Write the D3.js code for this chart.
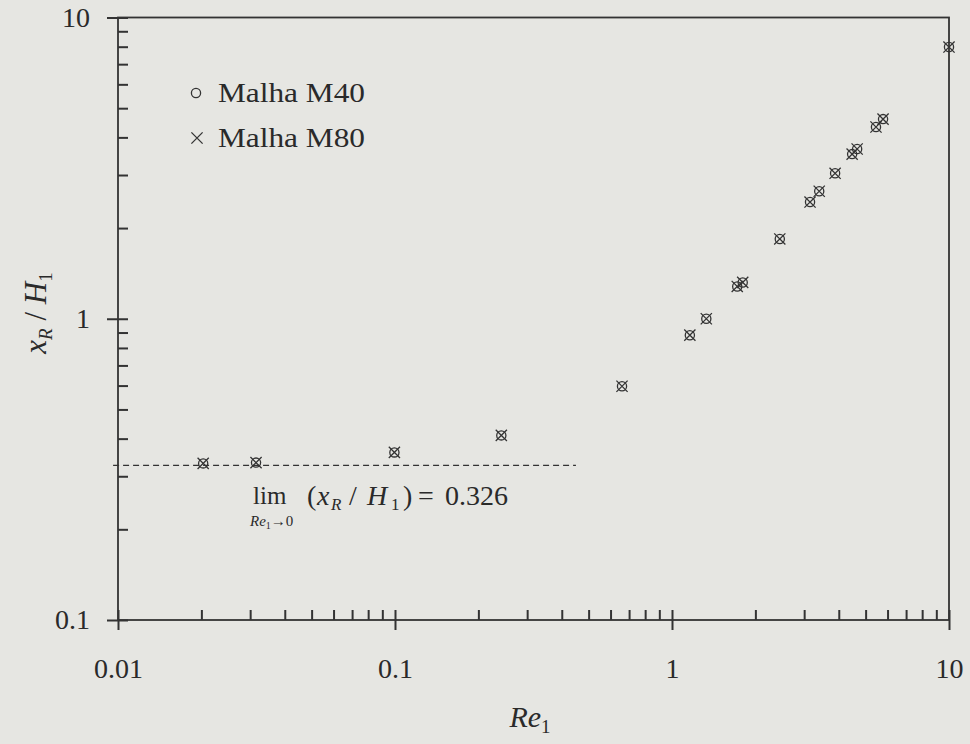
<!DOCTYPE html>
<html>
<head>
<meta charset="utf-8">
<script src="https://cdn.jsdelivr.net/npm/d3@7"></script>
<style>
  html, body { margin: 0; padding: 0; background: #e6e6e2; }
  svg { display: block; }
</style>
</head>
<body>
<svg id="chart" width="970" height="744"></svg>
<script>
// Reattachment length x_R/H_1 against Reynolds number Re_1, two meshes
const reM40 = [0.0203, 0.0315, 0.0995, 0.242, 0.66, 1.16, 1.33, 1.72, 1.80, 2.45, 3.15, 3.40, 3.88, 4.47, 4.66, 5.45, 5.78, 10.0];
const xrM40 = [0.331, 0.333, 0.360, 0.410, 0.597, 0.882, 1.00, 1.28, 1.32, 1.84, 2.44, 2.65, 3.04, 3.52, 3.66, 4.33, 4.60, 7.98];
const reM80 = [0.0203, 0.0315, 0.0995, 0.242, 0.66, 1.16, 1.33, 1.72, 1.80, 2.45, 3.15, 3.40, 3.88, 4.47, 4.66, 5.45, 5.78, 10.0];
const xrM80 = [0.331, 0.333, 0.360, 0.410, 0.597, 0.882, 1.00, 1.28, 1.32, 1.84, 2.44, 2.65, 3.04, 3.52, 3.66, 4.33, 4.60, 7.98];

const limitValue = 0.326;
const limitRange = [0.0096, 0.45];

const xMajor = [0.01, 0.1, 1, 10];
const xMajorLabels = ["0.01", "0.1", "1", "10"];
const yMajor = [0.1, 1, 10];
const yMajorLabels = ["0.1", "1", "10"];
const seriesNames = ["Malha M40", "Malha M80"];

(function draw() {
  const ink = "#333";
  const txt = "#2a2a2a";
  const face = "'Liberation Serif', 'Times New Roman', 'DejaVu Serif', serif";
  const svg = d3.select("#chart");
  const plotL = 118, plotR = 949, plotT = 17.5, plotB = 620;

  const x = d3.scaleLog().domain([0.01, 10]).range([plotL, plotR]);
  const y = d3.scaleLog().domain([0.1, 10]).range([plotB, plotT]);

  // every 1..9 multiple within each decade
  const minorsOf = dom => {
    const out = [];
    for (let e = Math.round(Math.log10(dom[0])); e < Math.round(Math.log10(dom[1])); e++)
      for (let k = 1; k <= 9; k++) out.push(k * Math.pow(10, e));
    out.push(dom[1]);
    return out;
  };
  const xAll = minorsOf(x.domain());
  const yAll = minorsOf(y.domain());

  const label = (sel, size) => sel.style("font-family", face).style("font-size", size + "px").style("fill", txt);

  // frame
  svg.append("rect")
    .attr("x", plotL).attr("y", plotT)
    .attr("width", plotR - plotL).attr("height", plotB - plotT)
    .attr("fill", "none").attr("stroke", ink).attr("stroke-width", 1.8);

  const styleAxis = g => {
    g.select(".domain").remove();
    g.selectAll("line").attr("stroke", ink).attr("stroke-width", 2);
    label(g.selectAll("text"), 28);
  };

  // x axis: inward ticks for all, outward for majors with labels
  svg.append("g").attr("transform", `translate(0,${plotB})`)
    .call(d3.axisTop(x).tickValues(xAll).tickSize(10).tickFormat(""))
    .call(styleAxis);
  svg.append("g").attr("transform", `translate(0,${plotB})`)
    .call(d3.axisBottom(x).tickValues(xMajor).tickSize(10).tickPadding(28)
      .tickFormat((d, i) => xMajorLabels[i]))
    .call(styleAxis);

  // y axis
  svg.append("g").attr("transform", `translate(${plotL},0)`)
    .call(d3.axisRight(y).tickValues(yAll).tickSize(10).tickFormat(""))
    .call(styleAxis);
  svg.append("g").attr("transform", `translate(${plotL},0)`)
    .call(d3.axisLeft(y).tickValues(yMajor).tickSize(11).tickPadding(17)
      .tickFormat((d, i) => yMajorLabels[i]))
    .call(styleAxis);

  // limit line
  svg.append("line")
    .attr("x1", x(limitRange[0])).attr("x2", x(limitRange[1]))
    .attr("y1", y(limitValue)).attr("y2", y(limitValue))
    .attr("stroke", ink).attr("stroke-width", 1.3)
    .attr("stroke-dasharray", "6,4");

  // markers
  const circleMark = (g, cx, cy, r) =>
    g.append("circle").attr("cx", cx).attr("cy", cy).attr("r", r)
      .attr("fill", "none").attr("stroke", ink).attr("stroke-width", 1.3);
  const crossMark = (g, cx, cy, s) =>
    g.append("path")
      .attr("d", `M${cx - s},${cy - s}L${cx + s},${cy + s}M${cx - s},${cy + s}L${cx + s},${cy - s}`)
      .attr("stroke", ink).attr("stroke-width", 1.3).attr("fill", "none");

  const pts = svg.append("g");
  reM40.forEach((re, i) => circleMark(pts, x(re), y(xrM40[i]), 4.6));
  reM80.forEach((re, i) => crossMark(pts, x(re), y(xrM80[i]), 5.6));

  // legend
  const lg = svg.append("g");
  circleMark(lg, 196, 93, 4.6);
  crossMark(lg, 197, 138, 5.6);
  label(lg.append("text").attr("x", 218).attr("y", 102), 27)
    .attr("textLength", 147).attr("lengthAdjust", "spacingAndGlyphs").text(seriesNames[0]);
  label(lg.append("text").attr("x", 218).attr("y", 147), 27)
    .attr("textLength", 147).attr("lengthAdjust", "spacingAndGlyphs").text(seriesNames[1]);

  // limit annotation
  const ann = svg.append("g");
  label(ann.append("text").attr("x", 253).attr("y", 504), 25).text("lim");
  const sub = label(ann.append("text").attr("x", 250).attr("y", 526), 15);
  sub.append("tspan").style("font-style", "italic").text("Re");
  sub.append("tspan").style("font-size", "10px").attr("dy", 3).text("1");
  sub.append("tspan").attr("dy", -3).text("→0");
  const eq = label(ann.append("text").attr("y", 505), 28);
  eq.append("tspan").attr("x", 307).text("(");
  eq.append("tspan").attr("x", 317).style("font-style", "italic").text("x");
  eq.append("tspan").attr("x", 331).attr("dy", 5).style("font-style", "italic").style("font-size", "17px").text("R");
  eq.append("tspan").attr("x", 349).attr("dy", -5).text("/");
  eq.append("tspan").attr("x", 367).style("font-style", "italic").text("H");
  eq.append("tspan").attr("x", 391).attr("dy", 5).style("font-size", "17px").text("1");
  eq.append("tspan").attr("x", 403).attr("dy", -5).text(")");
  eq.append("tspan").attr("x", 418).text("=");
  eq.append("tspan").attr("x", 445).text("0.326");

  // axis titles
  const xt = label(svg.append("text").attr("x", 530).attr("y", 727)
    .attr("text-anchor", "middle"), 30);
  xt.append("tspan").style("font-style", "italic").text("Re");
  xt.append("tspan").style("font-size", "19px").attr("dy", 6).text("1");

  const yt = label(svg.append("text")
    .attr("transform", "translate(46,313) rotate(-90)")
    .attr("text-anchor", "middle"), 31);
  yt.append("tspan").style("font-style", "italic").text("x");
  yt.append("tspan").style("font-style", "italic").style("font-size", "19px").attr("dy", 6).text("R");
  yt.append("tspan").attr("dy", -6).text(" / ");
  yt.append("tspan").style("font-style", "italic").text("H");
  yt.append("tspan").style("font-size", "19px").attr("dy", 6).text("1");
})();
</script>
</body>
</html>
